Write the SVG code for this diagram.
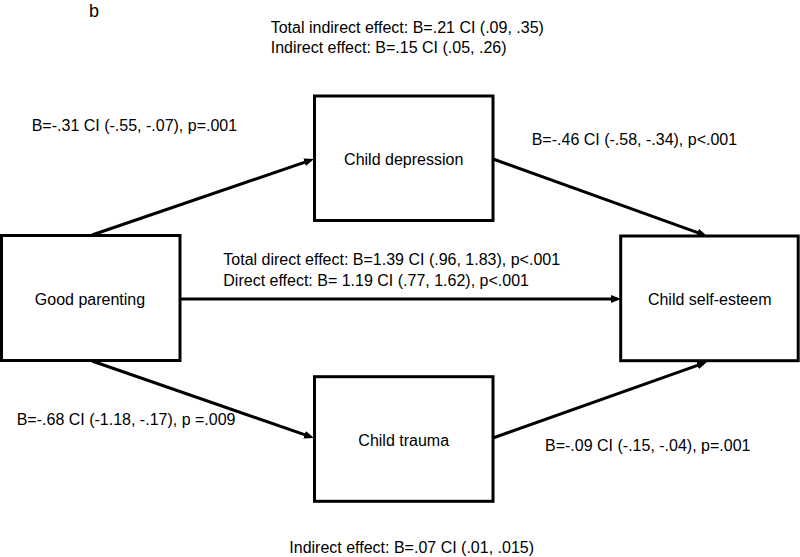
<svg xmlns="http://www.w3.org/2000/svg" width="800" height="557" viewBox="0 0 800 557">
<style>
.box{fill:#fff;stroke:#000;stroke-width:3}
.lbl{font-family:"Liberation Sans",Arial,sans-serif;font-size:16px;fill:#000}
.node{text-anchor:middle}
.edge{stroke:#000;stroke-width:3;fill:none;marker-end:url(#arr)}
</style>
<defs>
<marker id="arr" markerUnits="userSpaceOnUse" markerWidth="10" markerHeight="8" refX="6" refY="4" orient="auto" viewBox="0 0 10 8">
<path d="M0,0 L10,4 L0,8 z" fill="#000"/>
</marker>
</defs>
<rect width="800" height="557" fill="#fff"/>
<text class="lbl" x="89" y="17" style="font-size:18px">b</text>
<g id="connectors">
<line class="edge" x1="92" y1="235" x2="310.2" y2="160.3"/>
<line class="edge" x1="493" y1="159" x2="703.2" y2="234.6"/>
<line class="edge" x1="180" y1="299" x2="617" y2="299"/>
<line class="edge" x1="92" y1="361" x2="310.2" y2="436.7"/>
<line class="edge" x1="493" y1="438" x2="703.2" y2="363.3"/>
</g>
<g id="good-parenting">
<rect class="box" x="1.5" y="235.5" width="178.5" height="125"/>
<text class="lbl node" x="90" y="305">Good parenting</text>
</g>
<g id="child-depression">
<rect class="box" x="314.5" y="96" width="178.5" height="124.5"/>
<text class="lbl node" x="403.7" y="165">Child depression</text>
</g>
<g id="child-trauma">
<rect class="box" x="314.5" y="376.7" width="178.5" height="124.6"/>
<text class="lbl node" x="403.7" y="446">Child trauma</text>
</g>
<g id="child-self-esteem">
<rect class="box" x="620.7" y="236" width="177.5" height="124.7"/>
<text class="lbl node" x="709.7" y="305">Child self-esteem</text>
</g>
<g id="labels">
<text class="lbl" x="270.7" y="32.5">Total indirect effect: B=.21 CI (.09, .35)</text>
<text class="lbl" x="270.7" y="53.3">Indirect effect: B=.15 CI (.05, .26)</text>
<text class="lbl" x="31.7" y="130.7">B=-.31 CI (-.55, -.07), p=.001</text>
<text class="lbl" x="531.7" y="145">B=-.46 CI (-.58, -.34), p&lt;.001</text>
<text class="lbl" x="223.3" y="265">Total direct effect: B=1.39 CI (.96, 1.83), p&lt;.001</text>
<text class="lbl" x="223.3" y="286">Direct effect: B= 1.19 CI (.77, 1.62), p&lt;.001</text>
<text class="lbl" x="16.7" y="425">B=-.68 CI (-1.18, -.17), p =.009</text>
<text class="lbl" x="545" y="450.7">B=-.09 CI (-.15, -.04), p=.001</text>
<text class="lbl" x="289.3" y="553.3">Indirect effect: B=.07 CI (.01, .015)</text>
</g>
</svg>
